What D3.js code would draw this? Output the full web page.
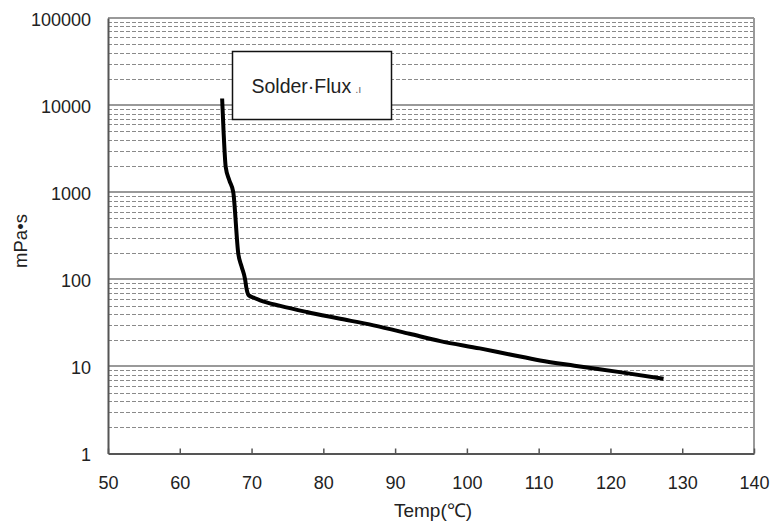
<!DOCTYPE html>
<html>
<head>
<meta charset="utf-8">
<script src="https://cdn.jsdelivr.net/npm/d3@7/dist/d3.min.js"></script>
<style>
	body { margin: 0; background: #fff; }
	#graphic text { font-family: "Liberation Sans", Arial, sans-serif; fill: #222; }
	.grid-minor { stroke: #8a8a8a; stroke-width: 1; stroke-dasharray: 4,2; }
	.grid-major { stroke: #999; stroke-width: 2; }
	.curve { fill: none; stroke: #000; stroke-width: 4; stroke-linejoin: round; stroke-linecap: butt; }
</style>
</head>
<body>
<div id="graphic"></div>
<script>
// Globals
var WIDTH = 774;
var HEIGHT = 525;

// Curve: temperature (C) and viscosity (mPa*s)
var TEMPS = [65.9, 66.1, 66.4, 66.9, 67.45, 68.15, 68.6, 69.1, 69.3, 69.6, 70.4, 71.2, 74, 77.7, 82, 87, 92, 96.3, 101.8, 106, 110.2, 115, 121.3, 127.4];
var VISCOSITY = [11900, 5000, 1950, 1370, 1000, 197, 141, 100, 78, 65.5, 61, 57.4, 49.5, 42.1, 35.7, 29.6, 23.7, 19.5, 16.1, 13.7, 11.7, 10.2, 8.6, 7.2];

var X_TICKS = [50, 60, 70, 80, 90, 100, 110, 120, 130, 140];
var Y_TICKS = [1, 10, 100, 1000, 10000, 100000];
var Y_MINOR = [2, 3, 4, 5, 6, 7, 8, 9];

var SERIES_NAME = 'Solder\u00b7Flux';
var X_TITLE = 'Temp(\u2103)';
var Y_TITLE = 'mPa\u2022s';

function render() {
	var margins = { top: 18, right: 20, bottom: 71.5, left: 108 };
	var chartWidth = WIDTH - margins.left - margins.right;
	var chartHeight = HEIGHT - margins.top - margins.bottom;

	var svg = d3.select('#graphic').append('svg')
		.attr('width', WIDTH)
		.attr('height', HEIGHT);

	var chart = svg.append('g')
		.attr('transform', 'translate(' + margins.left + ',' + margins.top + ')');

	var xScale = d3.scaleLinear()
		.domain([50, 140])
		.range([0, chartWidth]);

	var yScale = d3.scaleLog()
		.domain([1, 100000])
		.range([chartHeight, 0]);

	// minor gridlines (2..9 in each decade)
	var minor = [];
	Y_TICKS.slice(0, -1).forEach(function(d) {
		Y_MINOR.forEach(function(m) { minor.push(d * m); });
	});

	chart.append('g').selectAll('line')
		.data(minor)
		.enter().append('line')
		.attr('class', 'grid-minor')
		.attr('x1', 0)
		.attr('x2', chartWidth)
		.attr('y1', function(d) { return Math.round(yScale(d)) + 0.5; })
		.attr('y2', function(d) { return Math.round(yScale(d)) + 0.5; });

	chart.append('g').selectAll('line')
		.data(Y_TICKS.slice(1))
		.enter().append('line')
		.attr('class', 'grid-major')
		.attr('x1', 0)
		.attr('x2', chartWidth)
		.attr('y1', function(d) { return Math.round(yScale(d)); })
		.attr('y2', function(d) { return Math.round(yScale(d)); });

	// right border
	chart.append('line')
		.attr('x1', chartWidth).attr('x2', chartWidth)
		.attr('y1', 0).attr('y2', chartHeight)
		.attr('stroke', '#999').attr('stroke-width', 2);

	// x axis: ticks point inward
	var xAxis = d3.axisBottom(xScale)
		.tickValues(X_TICKS)
		.tickSize(-5)
		.tickPadding(23)
		.tickSizeOuter(0);

	var xAxisEl = chart.append('g')
		.attr('transform', 'translate(0,' + chartHeight + ')')
		.call(xAxis);
	xAxisEl.select('.domain').attr('stroke', '#555').attr('stroke-width', 2);
	xAxisEl.selectAll('.tick line').attr('stroke', '#555').attr('stroke-width', 1.5);
	xAxisEl.selectAll('.tick text')
		.style('font-size', '18px')
		.attr('dy', '0.71em');

	var yAxis = d3.axisLeft(yScale)
		.tickValues(Y_TICKS)
		.tickFormat(d3.format('d'))
		.tickSize(0)
		.tickPadding(17)
		.tickSizeOuter(0);

	var yAxisEl = chart.append('g').call(yAxis);
	yAxisEl.select('.domain').attr('stroke', '#555').attr('stroke-width', 2);
	yAxisEl.selectAll('.tick text')
		.style('font-size', '18px')
		.attr('dy', '0.4em');

	// the curve
	var line = d3.line()
		.curve(d3.curveMonotoneX)
		.x(function(d, i) { return xScale(TEMPS[i]); })
		.y(function(d) { return yScale(d); });

	chart.append('path')
		.datum(VISCOSITY)
		.attr('class', 'curve')
		.attr('d', line);

	// legend box
	var legend = svg.append('g').attr('transform', 'translate(232.5,51.5)');
	legend.append('rect')
		.attr('width', 159)
		.attr('height', 68)
		.attr('fill', '#fff')
		.attr('stroke', '#111')
		.attr('stroke-width', 1.5);
	var lt = legend.append('text')
		.attr('x', 19)
		.attr('y', 41)
		.style('font-size', '19.5px')
		.text(SERIES_NAME);
	// small paragraph mark left over from the source document
	legend.append('text')
		.attr('x', 19 + lt.node().getComputedTextLength() + 4)
		.attr('y', 41)
		.style('font-size', '11px')
		.style('fill', '#666')
		.text('.\u0131');

	// axis titles
	svg.append('text')
		.attr('x', margins.left + chartWidth / 2 + 2)
		.attr('y', 517)
		.attr('text-anchor', 'middle')
		.style('font-size', '19px')
		.text(X_TITLE);

	svg.append('text')
		.attr('transform', 'translate(27,241) rotate(-90)')
		.attr('text-anchor', 'middle')
		.style('font-size', '18.5px')
		.text(Y_TITLE);
}

document.addEventListener('DOMContentLoaded', function() {
	render();
});
</script>
</body>
</html>
